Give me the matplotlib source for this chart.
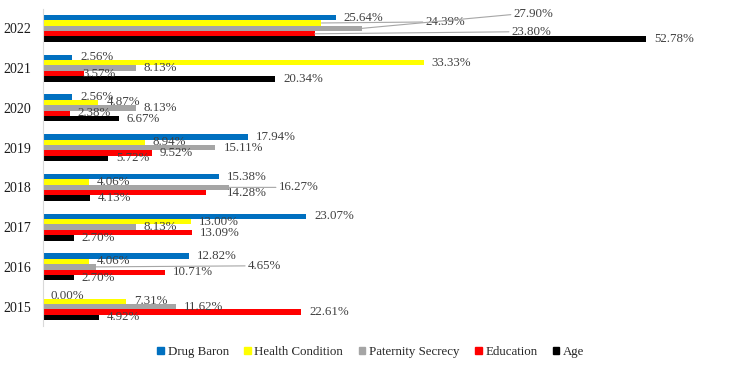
import matplotlib.pyplot as plt
import numpy as np
from matplotlib.patches import Patch

# data (percent)
years = ['2015', '2016', '2017', '2018', '2019', '2020', '2021', '2022']
series_names = ['Drug Baron', 'Health Condition', 'Paternity Secrecy', 'Education', 'Age']
drug_baron = [0.00, 12.82, 23.07, 15.38, 17.94, 2.56, 2.56, 25.64]
health_condition = [7.31, 4.06, 13.00, 4.06, 8.94, 4.87, 33.33, 24.39]
paternity_secrecy = [11.62, 4.65, 8.13, 16.27, 15.11, 8.13, 8.13, 27.90]
education = [22.61, 10.71, 13.09, 14.28, 9.52, 2.38, 3.57, 23.80]
age = [4.92, 2.70, 2.70, 4.13, 5.72, 6.67, 20.34, 52.78]

colors = ['#0070C0', '#FFFF00', '#A5A5A5', '#FF0000', '#000000']
all_series = [drug_baron, health_condition, paternity_secrecy, education, age]

# labels that were dragged away from the bar end: (year idx, series idx) -> (dx, dy) pixels, leader line
moved_labels = {
    (6, 3): (-1, 0, False),
    (3, 2): (50, 0, True),
    (3, 3): (21, 0, False),
    (1, 2): (152, 1, True),
    (7, 1): (104, 1, True),
    (7, 2): (152, 14, True),
    (7, 3): (197, 2, True),
}

plt.rcParams['font.family'] = ['Liberation Serif', 'DejaVu Serif']

fig = plt.figure(figsize=(7.39, 3.67), dpi=100)
ax = fig.add_axes([0.0578, 0.1104, 0.928, 0.8664])

y = np.arange(len(years))
h = 0.136
for j, (name, vals, col) in enumerate(zip(series_names, all_series, colors)):
    ypos = y + (2 - j) * h
    ax.barh(ypos, vals, height=h, color=col, label=name)
    for i, v in enumerate(vals):
        dx, dy, leader = moved_labels.get((i, j), (8, 0, False))
        props = None
        if leader:
            props = dict(arrowstyle='-', color='#A6A6A6', lw=0.8,
                         shrinkA=0, shrinkB=0, relpos=(0, 0.5))
        ax.annotate(f'{v:.2f}%', xy=(v, ypos[i]), xytext=(dx, dy),
                    textcoords='offset pixels', ha='left', va='center',
                    fontsize=9.3, color='#404040', arrowprops=props)

ax.set_xlim(0, 60)
ax.set_ylim(-0.5, len(years) - 0.5)
ax.set_yticks(y)
ax.set_yticklabels(years, fontsize=10, color='#1a1a1a')
ax.set_xticks([])
ax.tick_params(axis='y', length=0, pad=8)
for s in ['top', 'right', 'bottom']:
    ax.spines[s].set_visible(False)
ax.spines['left'].set_color('#D9D9D9')

handles = [Patch(color=c, label=n) for c, n in zip(colors, series_names)]
fig.legend(handles=handles, loc='center', bbox_to_anchor=(0.502, 0.041), ncol=5,
           frameon=False, fontsize=9.3, handlelength=0.5, handleheight=0.5,
           handletextpad=0.3, columnspacing=1.2, labelcolor='#262626')

fig.savefig('out.png', dpi=100)
